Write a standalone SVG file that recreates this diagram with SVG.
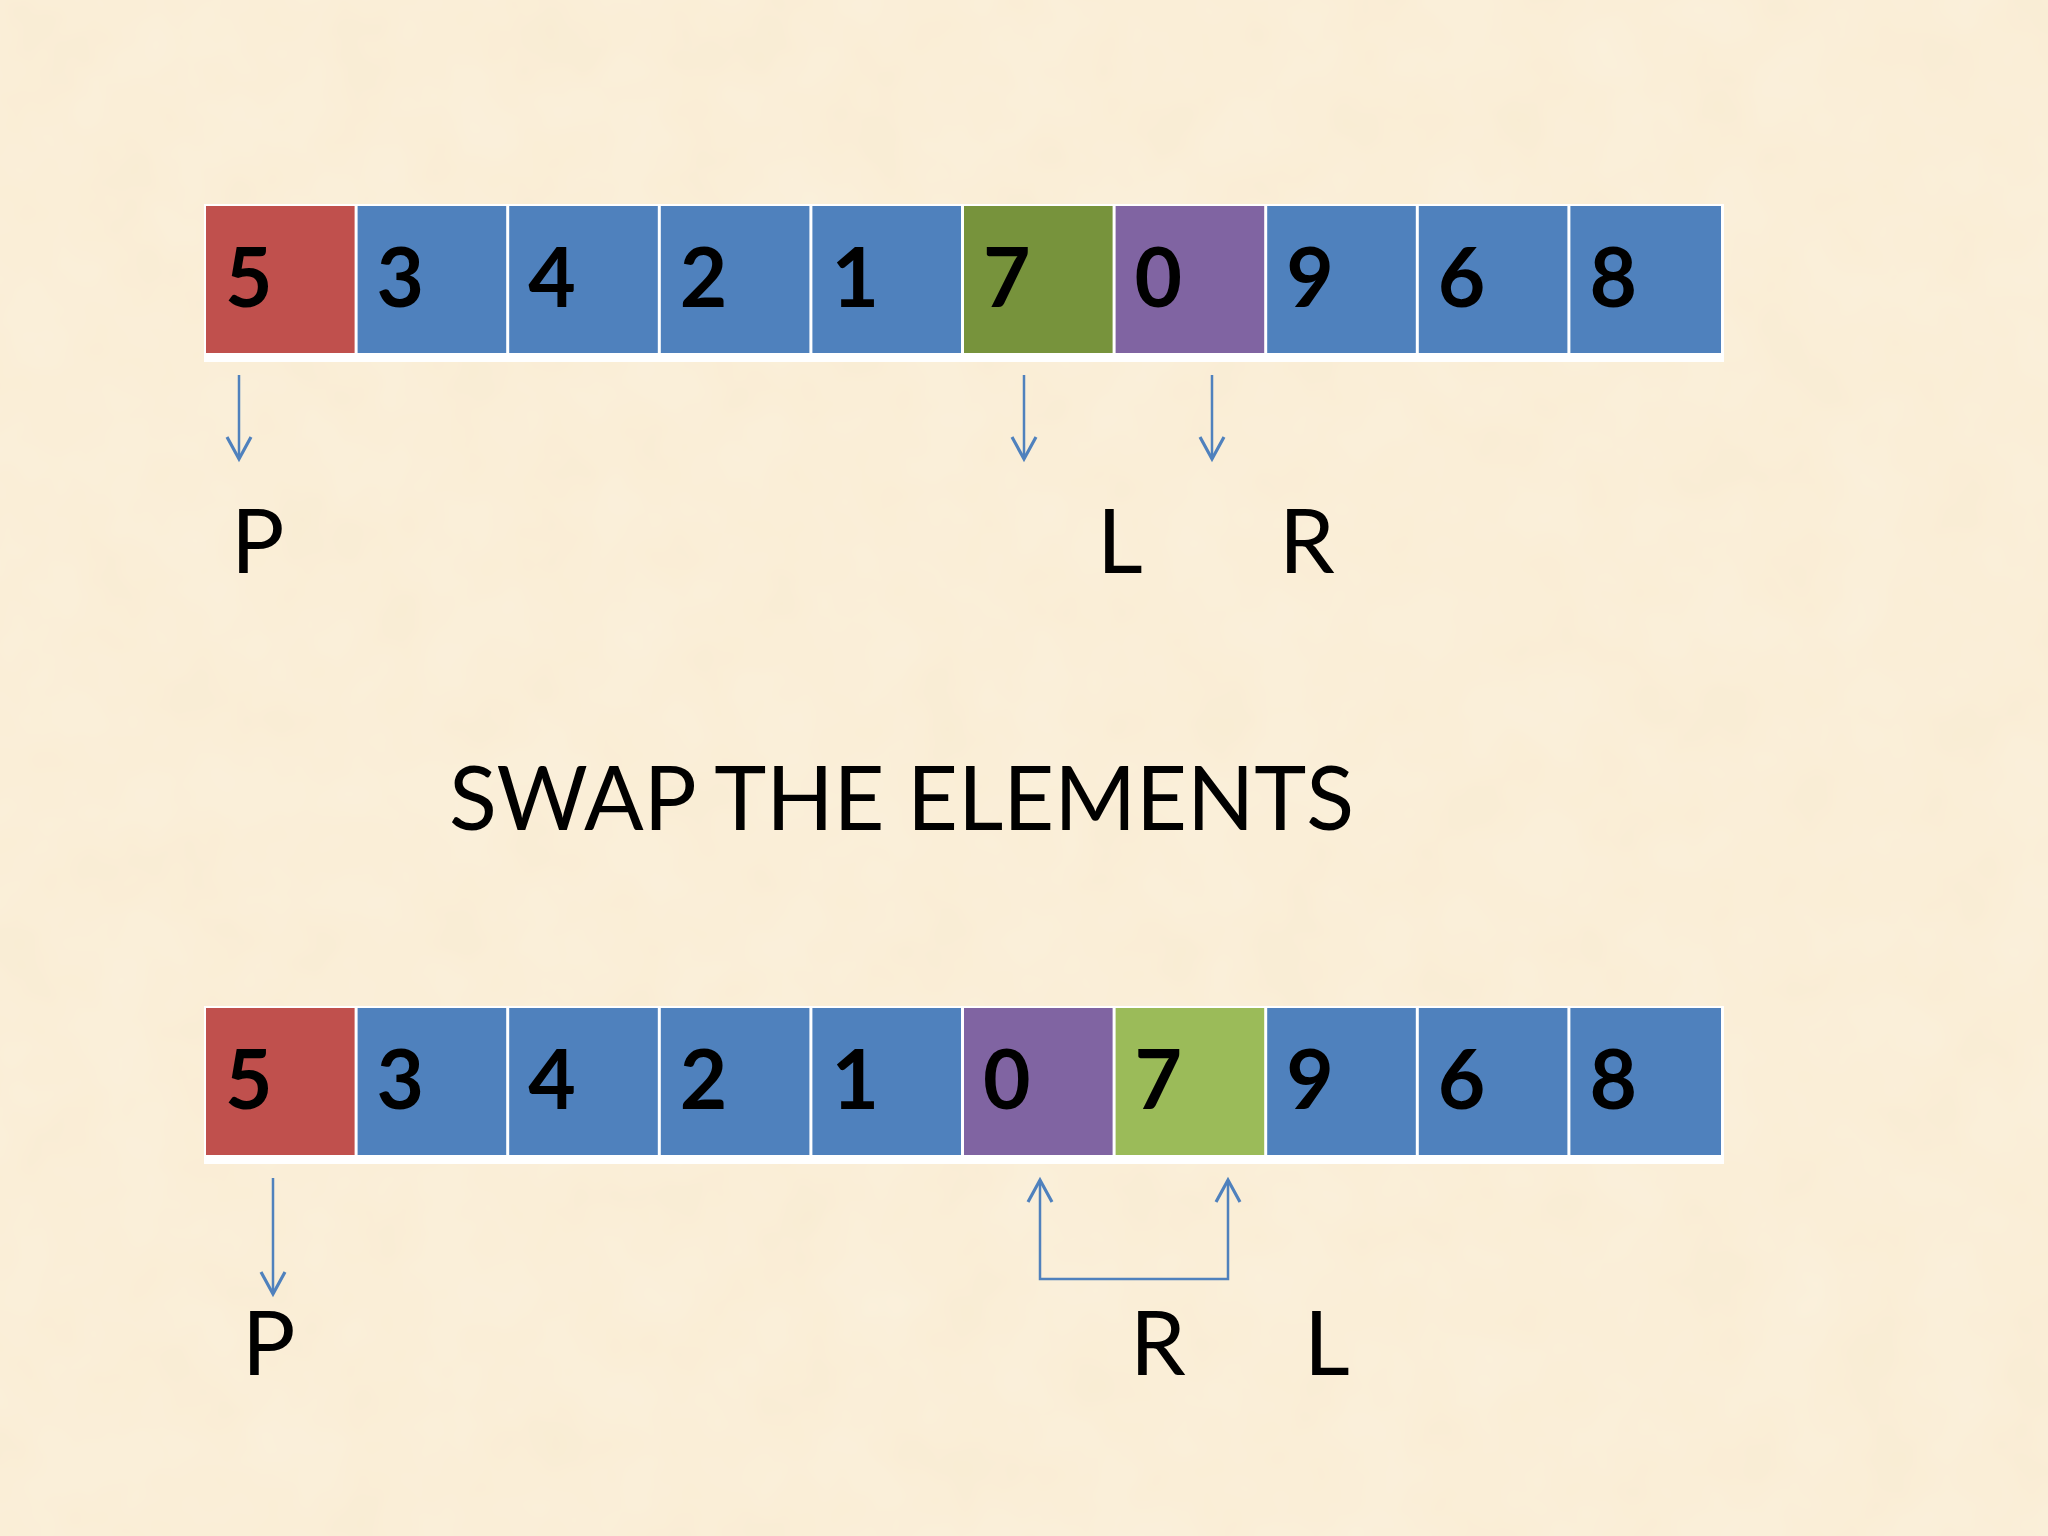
<svg xmlns="http://www.w3.org/2000/svg" width="2048" height="1536" viewBox="0 0 2048 1536">
<defs>
<style>
.cell-r{fill:#C0504D}
.cell-b{fill:#4F81BD}
.cell-g{fill:#77933C}
.cell-lg{fill:#9BBB59}
.cell-p{fill:#8064A2}
.num{font-family:Lato,"Open Sans","Liberation Sans",sans-serif;font-weight:700;font-size:82px;fill:#000}
.lbl{font-family:Lato,"Open Sans","Liberation Sans",sans-serif;font-weight:400;font-size:89px;fill:#000}
.conn{fill:none;stroke:#4F81BD;stroke-width:2.5}
</style>
<marker id="head" markerUnits="userSpaceOnUse" viewBox="-26 -16 30 32" markerWidth="30" markerHeight="32" refX="0" refY="0" orient="auto-start-reverse">
<path d="M-22,-12 L0,0 L-22,12" fill="none" stroke="#4F81BD" stroke-width="3.2"/>
</marker>
<filter id="tex" x="0" y="0" width="100%" height="100%">
<feTurbulence type="fractalNoise" baseFrequency="0.012" numOctaves="3" seed="4"/>
<feColorMatrix type="matrix" values="0 0 0 0 0.99  0 0 0 0 0.94  0 0 0 0 0.84  0 0 0 0.35 0"/>
</filter>
</defs>
<rect id="background" x="0" y="0" width="2048" height="1536" fill="#F9ECD3"/>
<rect x="0" y="0" width="2048" height="1536" filter="url(#tex)"/>

<g id="top-array">
<rect x="204" y="204" width="1520" height="158" fill="#FFFFFF"/>
<g id="top-cell-0"><rect class="cell-r" x="206" y="206" width="148.6" height="147"/><text class="num" x="225" y="307">5</text></g>
<g id="top-cell-1"><rect class="cell-b" x="357.6" y="206" width="148.6" height="147"/><text class="num" x="376.6" y="307">3</text></g>
<g id="top-cell-2"><rect class="cell-b" x="509.2" y="206" width="148.6" height="147"/><text class="num" x="528.2" y="307">4</text></g>
<g id="top-cell-3"><rect class="cell-b" x="660.8" y="206" width="148.6" height="147"/><text class="num" x="679.8" y="307">2</text></g>
<g id="top-cell-4"><rect class="cell-b" x="812.4" y="206" width="148.6" height="147"/><text class="num" x="831.4" y="307">1</text></g>
<g id="top-cell-5"><rect class="cell-g" x="964" y="206" width="148.6" height="147"/><text class="num" x="983" y="307">7</text></g>
<g id="top-cell-6"><rect class="cell-p" x="1115.6" y="206" width="148.6" height="147"/><text class="num" x="1134.6" y="307">0</text></g>
<g id="top-cell-7"><rect class="cell-b" x="1267.2" y="206" width="148.6" height="147"/><text class="num" x="1286.2" y="307">9</text></g>
<g id="top-cell-8"><rect class="cell-b" x="1418.8" y="206" width="148.6" height="147"/><text class="num" x="1437.8" y="307">6</text></g>
<g id="top-cell-9"><rect class="cell-b" x="1570.4" y="206" width="150.6" height="147"/><text class="num" x="1589.4" y="307">8</text></g>
</g>

<g id="bottom-array">
<rect x="204" y="1006" width="1520" height="158" fill="#FFFFFF"/>
<g id="bot-cell-0"><rect class="cell-r" x="206" y="1008" width="148.6" height="147"/><text class="num" x="225" y="1109">5</text></g>
<g id="bot-cell-1"><rect class="cell-b" x="357.6" y="1008" width="148.6" height="147"/><text class="num" x="376.6" y="1109">3</text></g>
<g id="bot-cell-2"><rect class="cell-b" x="509.2" y="1008" width="148.6" height="147"/><text class="num" x="528.2" y="1109">4</text></g>
<g id="bot-cell-3"><rect class="cell-b" x="660.8" y="1008" width="148.6" height="147"/><text class="num" x="679.8" y="1109">2</text></g>
<g id="bot-cell-4"><rect class="cell-b" x="812.4" y="1008" width="148.6" height="147"/><text class="num" x="831.4" y="1109">1</text></g>
<g id="bot-cell-5"><rect class="cell-p" x="964" y="1008" width="148.6" height="147"/><text class="num" x="983" y="1109">0</text></g>
<g id="bot-cell-6"><rect class="cell-lg" x="1115.6" y="1008" width="148.6" height="147"/><text class="num" x="1134.6" y="1109">7</text></g>
<g id="bot-cell-7"><rect class="cell-b" x="1267.2" y="1008" width="148.6" height="147"/><text class="num" x="1286.2" y="1109">9</text></g>
<g id="bot-cell-8"><rect class="cell-b" x="1418.8" y="1008" width="148.6" height="147"/><text class="num" x="1437.8" y="1109">6</text></g>
<g id="bot-cell-9"><rect class="cell-b" x="1570.4" y="1008" width="150.6" height="147"/><text class="num" x="1589.4" y="1109">8</text></g>
</g>

<g id="connectors">
<path class="conn" d="M239,375 V459" marker-end="url(#head)"/>
<path class="conn" d="M1024,375 V459" marker-end="url(#head)"/>
<path class="conn" d="M1212,375 V459" marker-end="url(#head)"/>
<path class="conn" d="M273,1178 V1294" marker-end="url(#head)"/>
<path class="conn" d="M1040,1180 V1279 H1228 V1180" marker-start="url(#head)" marker-end="url(#head)"/>
</g>

<g id="label-top-P"><text class="lbl" x="231" y="573">P</text></g>
<g id="label-top-L"><text class="lbl" x="1097" y="573">L</text></g>
<g id="label-top-R"><text class="lbl" x="1279" y="573">R</text></g>
<g id="title"><text class="lbl" x="449" y="830" textLength="905" lengthAdjust="spacingAndGlyphs">SWAP THE ELEMENTS</text></g>
<g id="label-bot-P"><text class="lbl" x="242" y="1375">P</text></g>
<g id="label-bot-R"><text class="lbl" x="1130" y="1375">R</text></g>
<g id="label-bot-L"><text class="lbl" x="1304" y="1375">L</text></g>
</svg>
